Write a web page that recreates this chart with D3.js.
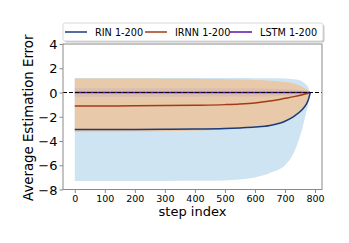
<!DOCTYPE html>
<html>
<head>
<meta charset="utf-8">
<script src="https://cdn.jsdelivr.net/npm/d3@7"></script>
<style>
  body { margin: 0; background: #fff; }
  text { font-family: "DejaVu Sans", sans-serif; }
</style>
</head>
<body>
<div id="chart"></div>
<script>
// values
var steps    = [0, 100, 200, 300, 400, 500, 550, 600, 650, 700, 730, 755, 770, 778, 784];
var rinMean  = [-3.05, -3.05, -3.05, -3.04, -3.02, -2.97, -2.92, -2.85, -2.72, -2.37, -1.97, -1.47, -1.0, -0.58, 0];
var rinLow   = [-7.3, -7.3, -7.3, -7.29, -7.28, -7.25, -7.18, -7.0, -6.63, -6.0, -4.95, -3.2, -1.7, -0.87, 0];
var rinHigh  = [1.2, 1.2, 1.2, 1.2, 1.2, 1.2, 1.19, 1.18, 1.17, 1.15, 1.1, 0.95, 0.65, 0.38, 0];
var irnnMean = [-1.12, -1.11, -1.1, -1.08, -1.05, -1.0, -0.95, -0.86, -0.7, -0.48, -0.34, -0.2, -0.1, -0.05, 0];
var irnnLow  = [-3.25, -3.24, -3.22, -3.2, -3.15, -3.05, -2.97, -2.87, -2.72, -2.37, -1.97, -1.47, -1.0, -0.58, 0];
var irnnHigh = [1.15, 1.15, 1.15, 1.14, 1.13, 1.1, 1.07, 1.03, 0.97, 0.87, 0.74, 0.5, 0.28, 0.14, 0];
var lstmMean = [0, 0, 0, 0, 0, 0, 0, 0, 0, 0, 0, 0, 0, 0, 0];
var lstmLow  = [-0.36, -0.36, -0.36, -0.36, -0.35, -0.34, -0.33, -0.32, -0.3, -0.27, -0.23, -0.17, -0.11, -0.06, 0];
var lstmHigh = [0.36, 0.36, 0.36, 0.36, 0.35, 0.34, 0.33, 0.32, 0.3, 0.27, 0.23, 0.17, 0.11, 0.06, 0];
var xTicks = [0, 100, 200, 300, 400, 500, 600, 700, 800];
var yTicks = [-8, -6, -4, -2, 0, 2, 4];
var seriesNames = ["RIN 1-200", "IRNN 1-200", "LSTM 1-200"];

var width = 349, height = 243;
var plotL = 63, plotR = 322, plotT = 44, plotB = 189.5;

var svg = d3.select("#chart").append("svg")
  .attr("width", width)
  .attr("height", height);

var x = d3.scaleLinear().domain([-39.2, 823.2]).range([plotL, plotR]);
var y = d3.scaleLinear().domain([-8, 4]).range([plotB, plotT]);

function band(lo, hi) {
  return d3.area()
    .x(function(d, i) { return x(steps[i]); })
    .y0(function(d, i) { return y(lo[i]); })
    .y1(function(d, i) { return y(hi[i]); })
    .curve(d3.curveMonotoneX)(steps);
}
function line(vals) {
  return d3.line()
    .x(function(d, i) { return x(steps[i]); })
    .y(function(d, i) { return y(vals[i]); })
    .curve(d3.curveMonotoneX)(steps);
}

svg.append("defs").append("clipPath").attr("id", "clip")
  .append("rect").attr("x", plotL).attr("y", plotT)
  .attr("width", plotR - plotL).attr("height", plotB - plotT);

var g = svg.append("g").attr("clip-path", "url(#clip)");

g.append("path").attr("d", band(rinLow, rinHigh)).attr("fill", "#cfe4f2");
g.append("path").attr("d", band(irnnLow, irnnHigh)).attr("fill", "#e8c9a9");
g.append("path").attr("d", band(lstmLow, lstmHigh)).attr("fill", "#b79ccf").attr("fill-opacity", 0.25);

g.append("path").attr("d", line(rinMean)).attr("fill", "none").attr("stroke", "#1b3b7a").attr("stroke-width", 1.5);
g.append("path").attr("d", line(irnnMean)).attr("fill", "none").attr("stroke", "#a23b17").attr("stroke-width", 1.5);
g.append("path").attr("d", line(lstmMean)).attr("fill", "none").attr("stroke", "#5a12a8").attr("stroke-width", 1.5);

// dashed zero line
g.append("line")
  .attr("x1", plotL).attr("x2", plotR)
  .attr("y1", y(0)).attr("y2", y(0))
  .attr("stroke", "#000").attr("stroke-width", 1.1)
  .attr("stroke-dasharray", "4,2");

// axes
var xAxis = svg.append("g")
  .attr("transform", "translate(0," + plotB + ")")
  .call(d3.axisBottom(x).tickValues(xTicks).tickSize(3.5).tickPadding(2));
xAxis.selectAll("text").attr("font-size", "9.5px").attr("fill", "#000");

var yAxis = svg.append("g")
  .attr("transform", "translate(" + plotL + ",0)")
  .call(d3.axisLeft(y).tickValues(yTicks).tickSize(3.5).tickPadding(2)
    .tickFormat(function(d) { return d < 0 ? "\u2212" + Math.abs(d) : d; }));
yAxis.selectAll("text").attr("font-size", "13px").attr("fill", "#000").attr("dy", "0.36em");

svg.selectAll(".domain").remove();
svg.selectAll(".tick line").attr("stroke", "#888");

svg.append("rect")
  .attr("x", plotL).attr("y", plotT)
  .attr("width", plotR - plotL).attr("height", plotB - plotT)
  .attr("fill", "none").attr("stroke", "#8a8a8a").attr("stroke-width", 1);

svg.append("text")
  .attr("transform", "translate(33," + ((plotT + plotB) / 2 + 1) + ") rotate(-90)")
  .attr("text-anchor", "middle")
  .attr("font-size", "13.3px")
  .text("Average Estimation Error");

svg.append("text")
  .attr("x", 192.5).attr("y", 215.5)
  .attr("text-anchor", "middle")
  .attr("font-size", "13px")
  .text("step index");

// legend
var leg = svg.append("g");
leg.append("rect")
  .attr("x", 64.5).attr("y", 24.5).attr("width", 260).attr("height", 18)
  .attr("rx", 2).attr("fill", "#c8c8c8");
leg.append("rect")
  .attr("x", 63).attr("y", 23).attr("width", 260).attr("height", 18)
  .attr("rx", 2).attr("fill", "#fff").attr("stroke", "#d0d0d0").attr("stroke-width", 0.8);

var legColors = ["#1b3b7a", "#a23b17", "#5a12a8"];
var legLineX = [65, 145, 230];
seriesNames.forEach(function(name, i) {
  leg.append("line")
    .attr("x1", legLineX[i]).attr("x2", legLineX[i] + 22)
    .attr("y1", 32).attr("y2", 32)
    .attr("stroke", legColors[i]).attr("stroke-width", 1.5);
  leg.append("text")
    .attr("x", legLineX[i] + 30).attr("y", 35.5)
    .attr("font-size", "9.7px")
    .text(name);
});
</script>
</body>
</html>
